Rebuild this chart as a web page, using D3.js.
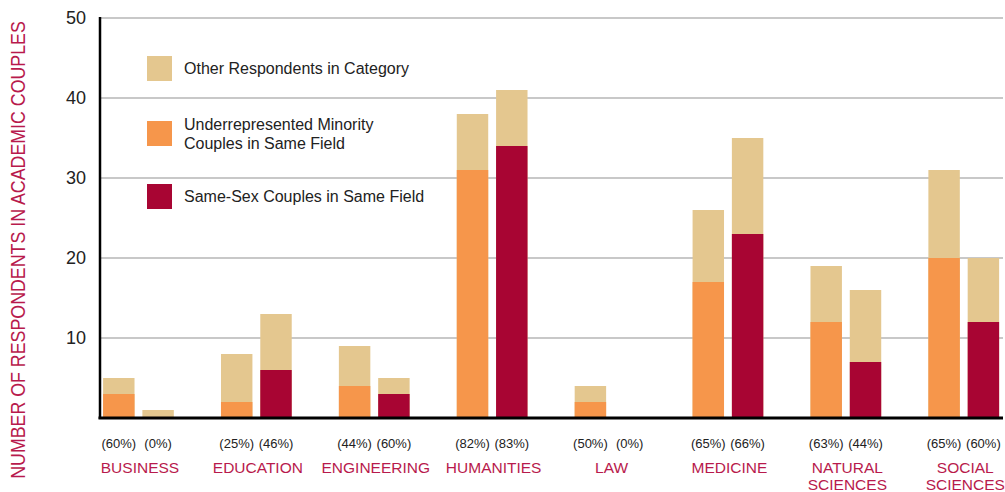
<!DOCTYPE html>
<html>
<head>
<meta charset="utf-8">
<script src="https://cdn.jsdelivr.net/npm/d3@7"></script>
<style>
  body { margin: 0; background: #fff; }
  svg { display: block; font-family: "Liberation Sans", Arial, Helvetica, sans-serif; }
</style>
</head>
<body>
<div id="container"></div>
<script>
/* DATA */
const categories = ["BUSINESS", "EDUCATION", "ENGINEERING", "HUMANITIES", "LAW", "MEDICINE", "NATURAL SCIENCES", "SOCIAL SCIENCES"];
// underrepresented minority couples: highlighted count and total respondents
const urmCount = [3, 2, 4, 31, 2, 17, 12, 20];
const urmTotal = [5, 8, 9, 38, 4, 26, 19, 31];
// same-sex couples: highlighted count and total respondents
const sameSexCount = [0, 6, 3, 34, 0, 23, 7, 12];
const sameSexTotal = [1, 13, 5, 41, 0, 35, 16, 20];
const urmPct = ["60%", "25%", "44%", "82%", "50%", "65%", "63%", "65%"];
const sameSexPct = ["0%", "46%", "60%", "83%", "0%", "66%", "44%", "60%"];
const yTicks = [10, 20, 30, 40, 50];
const legendLabels = [
  ["Other Respondents in Category"],
  ["Underrepresented Minority", "Couples in Same Field"],
  ["Same-Sex Couples in Same Field"]
];

const colors = { other: "#e4c78f", urm: "#f6964b", same: "#a80533", label: "#b81a4c", text: "#222" };

const W = 1005, H = 492;
const svg = d3.select("#container").append("svg").attr("width", W).attr("height", H);

/* SCALES */
const y = d3.scaleLinear().domain([0, 50]).range([418, 18]);
const x = d3.scaleBand().domain(categories).range([79.5, 1022.7]).paddingInner(0.4).paddingOuter(0.2);
const xSub = d3.scaleBand().domain(["urm", "same"]).range([0, x.bandwidth()]).paddingInner(0.2);

// gridlines
svg.append("g").selectAll("line").data(yTicks).join("line")
  .attr("x1", 100).attr("x2", 1003)
  .attr("y1", d => y(d)).attr("y2", d => y(d))
  .attr("stroke", "#c8c8c8").attr("stroke-width", 2);

// y tick labels
svg.append("g").selectAll("text").data(yTicks).join("text")
  .attr("x", 86).attr("y", d => y(d)).attr("dy", "0.35em")
  .attr("text-anchor", "end").attr("font-size", 18).attr("fill", colors.text)
  .text(d => d);

// y axis title: tall, narrow caps, squeezed to the plot height
const title = svg.append("text")
  .attr("text-anchor", "middle").attr("font-size", 19.5).attr("fill", colors.label)
  .text("NUMBER OF RESPONDENTS IN ACADEMIC COUPLES");
const sx = 458 / title.node().getComputedTextLength();
title.attr("transform", `translate(25,250) rotate(-90) scale(${sx},1)`);

/* BARS */
const rows = categories.map((c, i) => ({ c, i }));
const groups = svg.append("g").selectAll("g").data(rows).join("g")
  .attr("transform", d => `translate(${x(d.c)},0)`);

function stack(g, key, counts, totals, color) {
  g.filter(d => totals[d.i] > 0).append("rect")
    .attr("x", xSub(key)).attr("width", xSub.bandwidth())
    .attr("y", d => y(totals[d.i])).attr("height", d => y(0) - y(totals[d.i]))
    .attr("fill", colors.other);
  g.filter(d => counts[d.i] > 0).append("rect")
    .attr("x", xSub(key)).attr("width", xSub.bandwidth())
    .attr("y", d => y(counts[d.i])).attr("height", d => y(0) - y(counts[d.i]))
    .attr("fill", color);
}
stack(groups, "urm", urmCount, urmTotal, colors.urm);
stack(groups, "same", sameSexCount, sameSexTotal, colors.same);

// percent labels
groups.append("text")
  .attr("x", xSub("urm") + xSub.bandwidth() / 2).attr("y", 443).attr("dy", "0.35em")
  .attr("text-anchor", "middle").attr("font-size", 13).attr("fill", colors.text)
  .text(d => `(${urmPct[d.i]})`);
groups.append("text")
  .attr("x", xSub("same") + xSub.bandwidth() / 2).attr("y", 443).attr("dy", "0.35em")
  .attr("text-anchor", "middle").attr("font-size", 13).attr("fill", colors.text)
  .text(d => `(${sameSexPct[d.i]})`);

// category labels
groups.append("text")
  .attr("text-anchor", "middle").attr("font-size", 15.5).attr("fill", colors.label)
  .selectAll("tspan").data(d => d.c.split(" ")).join("tspan")
  .attr("x", x.bandwidth() / 2 + 1.5)
  .attr("y", (d, j) => 468 + j * 16.5).attr("dy", "0.35em")
  .text(d => d);

/* AXES */
svg.append("line").attr("x1", 100).attr("x2", 100).attr("y1", 17).attr("y2", 419)
  .attr("stroke", "#000").attr("stroke-width", 2.5);
svg.append("line").attr("x1", 98.5).attr("x2", 1003).attr("y1", 418).attr("y2", 418)
  .attr("stroke", "#000").attr("stroke-width", 3);

/* LEGEND */
const legendY = [56, 121, 184];
const lColors = [colors.other, colors.urm, colors.same];
const legend = svg.append("g").selectAll("g").data(legendLabels).join("g")
  .attr("transform", (d, i) => `translate(147,${legendY[i]})`);
legend.append("rect").attr("width", 25).attr("height", 25).attr("fill", (d, i) => lColors[i]);
legend.append("text").attr("font-size", 16).attr("fill", colors.text)
  .selectAll("tspan").data(d => d).join("tspan")
  .attr("x", 37)
  .attr("y", (d, j, n) => (n.length === 1 ? 12.5 : 3.5 + j * 19)).attr("dy", "0.35em")
  .text(d => d);
</script>
</body>
</html>
